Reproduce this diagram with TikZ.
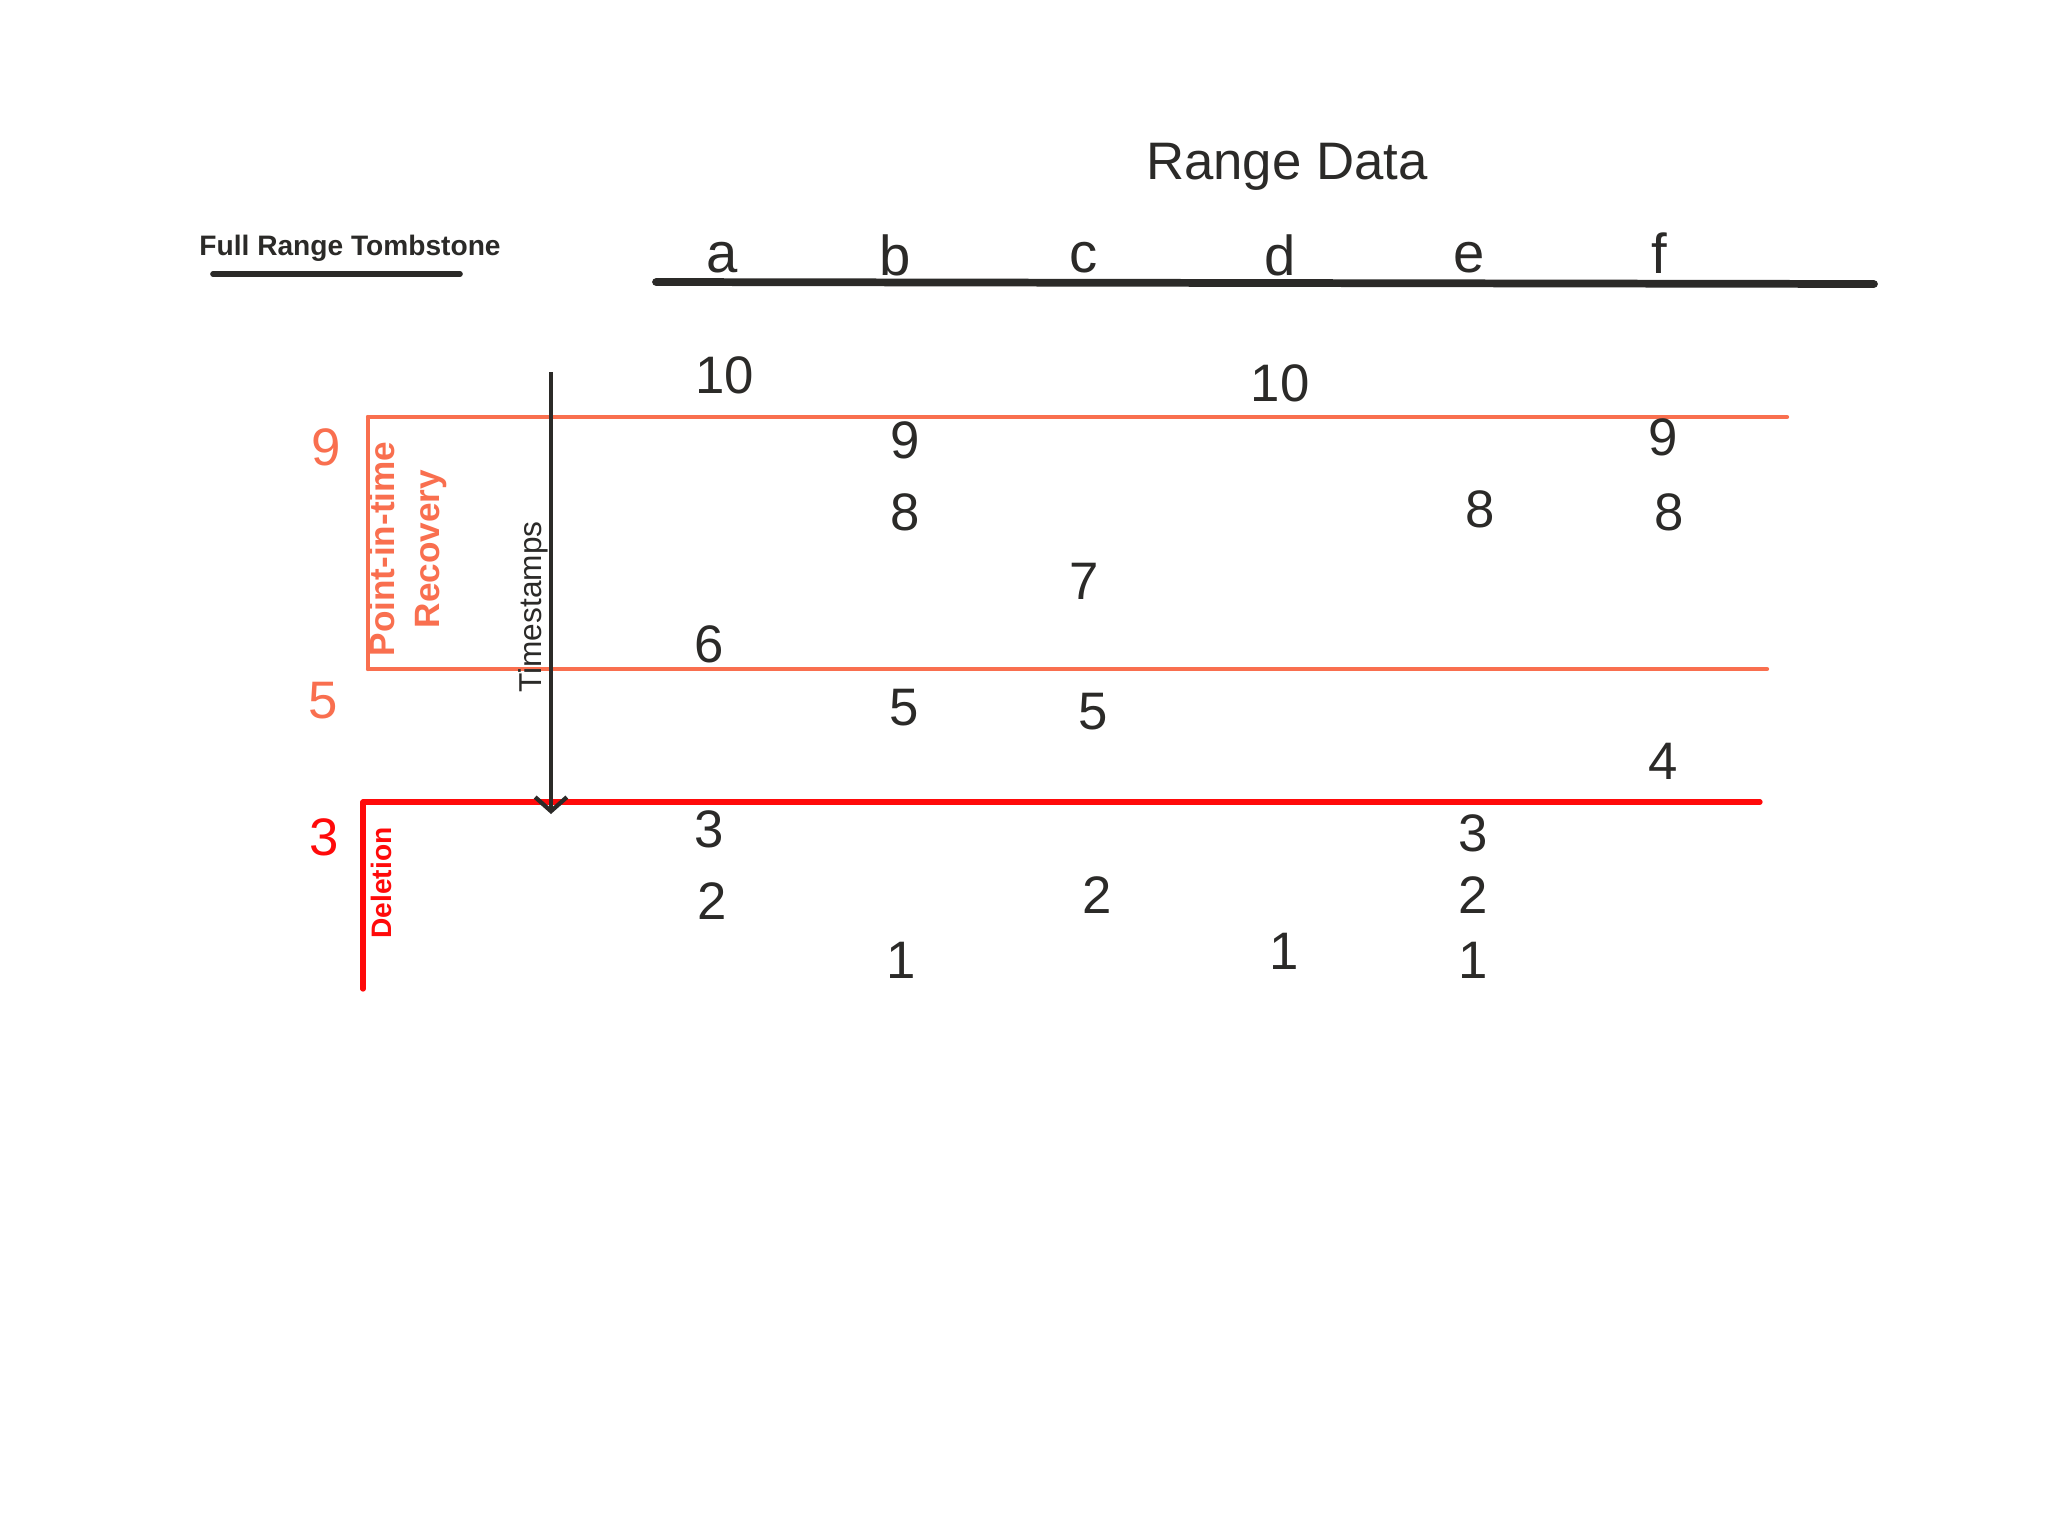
\documentclass[tikz,border=0pt]{standalone}
\usepackage{fontspec}
\setmainfont{Liberation Sans}
\usetikzlibrary{arrows.meta, positioning}

\definecolor{ink}{HTML}{2B2A28}
\definecolor{pitr}{HTML}{F96F4F}
\definecolor{del}{HTML}{FF0A0A}

\begin{document}
\begin{tikzpicture}[
    x=0.01cm, y=-0.01cm,
    >=Stealth,
    val/.style={font=\fontsize{15}{17}\selectfont, text=ink},
    col/.style={font=\fontsize{16}{18}\selectfont, text=ink},
    band/.style={draw=pitr, line width=1.2pt, line cap=round},
    delband/.style={draw=del, line width=1.5pt, line cap=round},
    side/.style={rotate=90, align=center, inner sep=1pt}
  ]
  \useasboundingbox[fill=white] (0,0) rectangle (2048,1536);

  % titles
  \node[font=\fontsize{15}{17}\selectfont, text=ink] (title) at (1287,167) {Range Data};
  \node[font=\fontsize{8}{10}\selectfont\bfseries, text=ink] (tomb) at (350,248) {Full Range Tombstone};
  \coordinate (tomb-l) at (213,274);
  \coordinate (tomb-r) at (460,274);
  \draw[ink, line width=1.6pt, line cap=round] (tomb-l) -- (tomb-r);

  % columns
  \node[col] (colA) at (722,258) {a};
  \node[col] (colB) at (895,255) {b};
  \node[col] (colC) at (1084,258) {c};
  \node[col] (colD) at (1280,255) {d};
  \node[col] (colE) at (1469,258) {e};
  \node[col] (colF) at (1659,253) {f};
  \coordinate (hdr-l) at (656,282);
  \coordinate (hdr-r) at (1874,284);
  \draw[ink, line width=2.2pt, line cap=round] (hdr-l) -- (hdr-r);

  % point-in-time recovery band
  \coordinate (pitr-tl) at (368,417);
  \coordinate (pitr-tr) at (1787,417);
  \coordinate (pitr-bl) at (368,669);
  \coordinate (pitr-br) at (1767,669);
  \draw[band] (pitr-tl) -- (pitr-tr);
  \draw[band] (pitr-bl) -- (pitr-br);
  \draw[band] (pitr-tl) -- (pitr-bl);
  \node[val, text=pitr] (ts9) at (326,447) {9};
  \node[val, text=pitr] (ts5) at (323,701) {5};
  \node[side, text=pitr, font=\fontsize{10}{13}\selectfont\bfseries] (pitrlbl) at (408,549)
    {Point-in-time\\Recovery};

  % deletion
  \coordinate (del-tl) at (363,802);
  \coordinate (del-tr) at (1760,802);
  \coordinate (del-bl) at (363,989);
  \draw[delband] (del-tl) -- (del-tr);
  \draw[delband] (del-tl) -- (del-bl);
  \node[val, text=del] (ts3) at (324,837) {3};
  \node[side, text=del, font=\fontsize{8}{10}\selectfont\bfseries] (dellbl) at (381,883) {Deletion};

  % timestamps axis
  \coordinate (ts-top) at (551,372);
  \coordinate (ts-bot) at (551,814);
  \draw[ink, line width=1.2pt, -{Straight Barb[length=4pt, width=9pt, line width=1.2pt]}]
    (ts-top) -- (ts-bot);
  \node[side, text=ink, font=\fontsize{9}{11}\selectfont] (tslbl) at (533,607) {Timestamps};

  % values
  \node[val] (a10) at (725,375) {10};
  \node[val] (d10) at (1280,383) {10};
  \node[val] (b9) at (905,440) {9};
  \node[val] (f9) at (1663,437) {9};
  \node[val] (b8) at (905,512) {8};
  \node[val] (e8) at (1480,509) {8};
  \node[val] (f8) at (1669,512) {8};
  \node[val] (c7) at (1084,581) {7};
  \node[val] (a6) at (709,644) {6};
  \node[val] (b5) at (904,708) {5};
  \node[val] (c5) at (1093,712) {5};
  \node[val] (f4) at (1663,761) {4};
  \node[val] (a3) at (709,829) {3};
  \node[val] (e3) at (1473,833) {3};
  \node[val] (a2) at (712,901) {2};
  \node[val] (c2) at (1097,895) {2};
  \node[val] (e2) at (1473,895) {2};
  \node[val] (b1) at (901,960) {1};
  \node[val] (d1) at (1284,951) {1};
  \node[val] (e1) at (1473,960) {1};
\end{tikzpicture}
\end{document}
